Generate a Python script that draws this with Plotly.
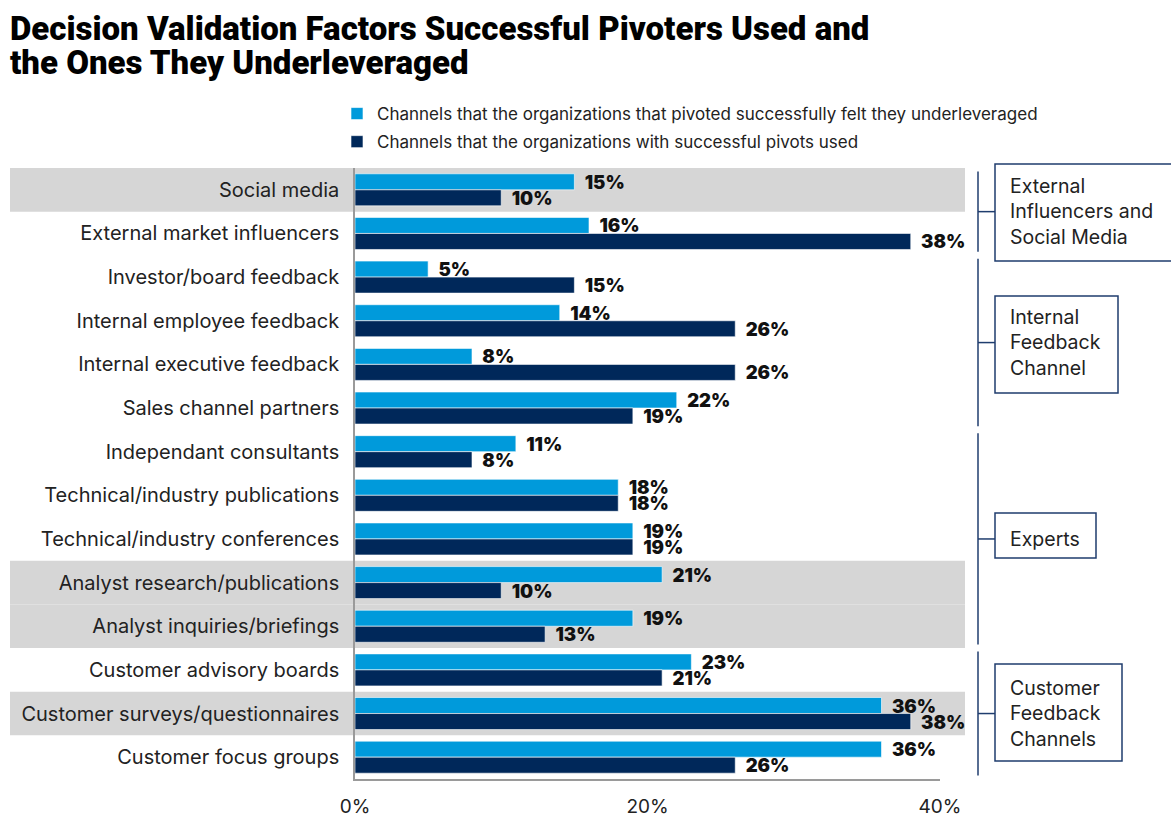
import plotly.graph_objects as go

categories = [
    "Social media",
    "External market influencers",
    "Investor/board feedback",
    "Internal employee feedback",
    "Internal executive feedback",
    "Sales channel partners",
    "Independant consultants",
    "Technical/industry publications",
    "Technical/industry conferences",
    "Analyst research/publications",
    "Analyst inquiries/briefings",
    "Customer advisory boards",
    "Customer surveys/questionnaires",
    "Customer focus groups",
]
underleveraged = [15, 16, 5, 14, 8, 22, 11, 18, 19, 21, 19, 23, 36, 36]
used = [10, 38, 15, 26, 26, 19, 8, 18, 19, 10, 13, 21, 38, 26]
series_names = [
    "Channels that the organizations that pivoted successfully felt they underleveraged",
    "Channels that the organizations with successful pivots used",
]
title_lines = ["Decision Validation Factors Successful Pivoters Used and",
               "the Ones They Underleveraged"]
highlight_rows = [0, 9, 10, 12]
groups = [
    ("External<br>Influencers and<br>Social Media", 0, 1),
    ("Internal<br>Feedback<br>Channel", 2, 5),
    ("Experts", 6, 10),
    ("Customer<br>Feedback<br>Channels", 11, 13),
]
x_ticks = [0, 20, 40]
x_ticktext = ["0%", "20%", "40%"]

LIGHT = "#009ADB"
DARK = "#00285A"
GREY = "#D6D6D6"
NAVY_LINE = "#1F3D6E"
FONT = "Inter"

W, H = 1171, 820
L, R, T, B = 355, 231, 168, 41
PW = W - L - R
PH = H - T - B


def px_x(px):
    return (px - L) / PW


def px_y(py):
    return (H - B - py) / PH


idx = list(range(len(categories)))

fig = go.Figure()
for k, (vals, name, col) in enumerate([(underleveraged, series_names[0], LIGHT),
                                       (used, series_names[1], DARK)]):
    fig.add_trace(go.Bar(
        y=idx, x=vals, orientation="h", name=name, legendgroup=f"g{k}",
        marker=dict(color=col, line=dict(color="white", width=0.6)),
        text=[f"  {v}%" for v in vals], textposition="outside",
        textfont=dict(family=FONT, size=18.5, color="#111111", weight=900),
        constraintext="none", cliponaxis=False,
    ))

shapes = []
for r in highlight_rows:
    shapes.append(dict(type="rect", xref="paper", yref="y",
                       x0=px_x(10), x1=px_x(965), y0=r - 0.5, y1=r + 0.5,
                       fillcolor=GREY, line=dict(width=0), layer="below"))

annotations = []
box_specs = {
    0: (995, 1175, 164, 261),
    1: (995, 1118, 296, 393),
    2: (995, 1096, 513, 558),
    3: (995, 1122, 664, 761),
}
for gi, (label, r0, r1) in enumerate(groups):
    shapes.append(dict(type="line", xref="paper", yref="y",
                       x0=px_x(978), x1=px_x(978), y0=r0 - 0.42, y1=r1 + 0.42,
                       line=dict(color=NAVY_LINE, width=1.5)))
    ymid = (r0 + r1) / 2
    shapes.append(dict(type="line", xref="paper", yref="y",
                       x0=px_x(978), x1=px_x(995), y0=ymid, y1=ymid,
                       line=dict(color=NAVY_LINE, width=1.5)))
    bx0, bx1, by0, by1 = box_specs[gi]
    shapes.append(dict(type="rect", xref="paper", yref="paper",
                       x0=px_x(bx0), x1=px_x(bx1), y0=px_y(by1), y1=px_y(by0),
                       line=dict(color=NAVY_LINE, width=1.5), fillcolor="rgba(0,0,0,0)"))
    annotations.append(dict(xref="paper", yref="y", x=px_x(1008), y=ymid,
                            text=label, showarrow=False, xanchor="left", yanchor="middle",
                            align="left",
                            font=dict(family=FONT, size=19.5, color="#222222")))

for line_text, yc in zip(title_lines, [28, 63]):
    annotations.append(dict(xref="paper", yref="paper", x=px_x(8), y=px_y(yc),
                            text=line_text, showarrow=False, xanchor="left", yanchor="middle",
                            font=dict(family="Roboto", size=33, color="#000000", weight=900)))

fig.update_layout(
    width=W, height=H,
    margin=dict(l=L, r=R, t=T, b=B, autoexpand=False),
    paper_bgcolor="white", plot_bgcolor="rgba(0,0,0,0)",
    barmode="group", bargap=0.266, bargroupgap=0,
    legend=dict(x=px_x(337), y=px_y(96), xanchor="left", yanchor="top",
                orientation="v", traceorder="grouped",
                font=dict(family=FONT, size=17, color="#222222"),
                bgcolor="rgba(0,0,0,0)", tracegroupgap=3, itemwidth=30),
    showlegend=True,
    xaxis=dict(range=[0, 40], tickvals=x_ticks, ticktext=x_ticktext,
               showgrid=False, zeroline=False, showline=True, linecolor="#9A9A9A", linewidth=1.5,
               ticks="", ticklabelstandoff=9,
               tickfont=dict(family=FONT, size=19, color="#222222")),
    yaxis=dict(range=[len(categories) - 0.5, -0.5], tickvals=idx, ticktext=categories,
               showgrid=False, zeroline=False, showline=True, linecolor="#9A9A9A", linewidth=1.5,
               ticks="", ticklabelstandoff=10,
               tickfont=dict(family=FONT, size=20, color="#222222")),
    shapes=shapes, annotations=annotations,
)

fig.write_html("out.html")
